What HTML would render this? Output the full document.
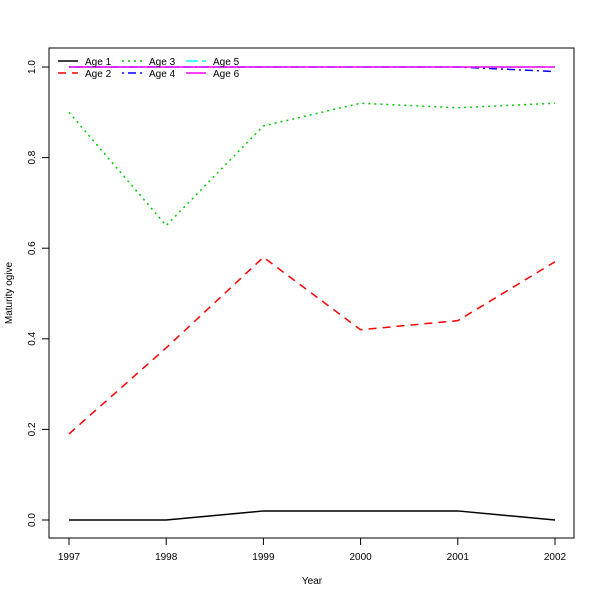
<!DOCTYPE html>
<html><head><meta charset="utf-8"><style>body{margin:0;background:#fff}svg{display:block;font-family:"Liberation Sans",sans-serif}</style></head>
<body>
<svg id="chart" width="600" height="600"></svg>
<script>
const years = [1997, 1998, 1999, 2000, 2001, 2002];
const age1 = [0, 0, 0.02, 0.02, 0.02, 0];
const age2 = [0.19, 0.38, 0.58, 0.42, 0.44, 0.57];
const age3 = [0.90, 0.65, 0.87, 0.92, 0.91, 0.92];
const age4 = [1, 1, 1, 1, 1, 0.99];
const age5 = [1, 1, 1, 1, 1, 1];
const age6 = [1, 1, 1, 1, 1, 1];
const yTicks = [0, 0.2, 0.4, 0.6, 0.8, 1.0];
const yTickLabels = ["0.0", "0.2", "0.4", "0.6", "0.8", "1.0"];
const seriesNames = ["Age 1", "Age 2", "Age 3", "Age 4", "Age 5", "Age 6"];

const NS = "http://www.w3.org/2000/svg";
const svg = document.getElementById("chart");
const x = v => 69 + (v - 1997) * 97.2;
const y = v => 520 - v * 453;
function mk(tag, attrs, parent) {
  const e = document.createElementNS(NS, tag);
  for (const k in attrs) e.setAttribute(k, attrs[k]);
  (parent || svg).appendChild(e);
  return e;
}
const frame = mk("rect", {x: 49, y: 48, width: 525, height: 490, fill: "none", stroke: "#000"});



years.forEach(v => {
  const t = mk("line", {x1: x(v), x2: x(v), y1: 538, y2: 545, stroke: "#000"});
  
  
  const l = mk("text", {x: x(v), y: 560, "font-size": 10, "text-anchor": "middle"});
  l.textContent = v;
  
  
});
yTicks.forEach((v, i) => {
  const t = mk("line", {x1: 42, x2: 49, y1: y(v), y2: y(v), stroke: "#000"});
  
  
  const l = mk("text", {x: 0, y: 0, "font-size": 10, "text-anchor": "middle", transform: `translate(35,${y(v)}) rotate(-90)`});
  l.textContent = yTickLabels[i];
  
  
});
const xt = mk("text", {x: 312, y: 584, "font-size": 10, "text-anchor": "middle"});
xt.textContent = "Year";


const yt = mk("text", {x: 0, y: 0, "font-size": 10, "text-anchor": "middle", transform: "translate(12,293) rotate(-90)"});
yt.textContent = "Maturity ogive";



const series = [age1, age2, age3, age4, age5, age6];
const colors = ["#000000", "#ff0000", "#00cd00", "#0000ff", "#00ffff", "#ff00ff"];
const dashes = ["", "8,6", "2,4", "2,4,8,4", "12,4", ""];
series.forEach((s, i) => {
  const p = mk("polyline", {points: s.map((v, j) => x(years[j]) + "," + y(v)).join(" "), fill: "none", stroke: colors[i], "stroke-width": 1.5, "stroke-dasharray": dashes[i]});
  
  
});
seriesNames.forEach((n, i) => {
  const col = Math.floor(i / 2), row = i % 2;
  const lx = 58 + col * 64, ly = 61 + row * 12;
  const l = mk("line", {x1: lx, x2: lx + 20, y1: ly, y2: ly, stroke: colors[i], "stroke-width": 1.5, "stroke-dasharray": dashes[i]});
  
  
  const t = mk("text", {x: lx + 27, y: ly + 4, "font-size": 10});
  t.textContent = n;
  
  
});
</script>
</body></html>
